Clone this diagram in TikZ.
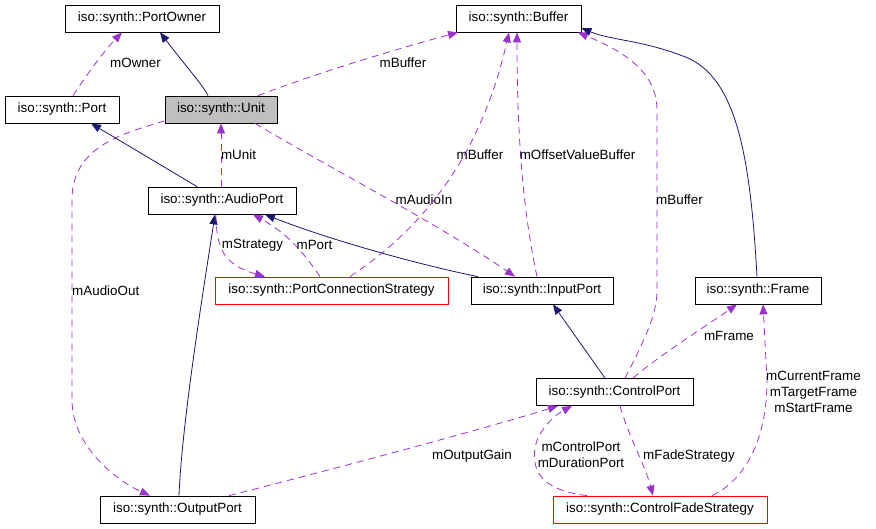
\documentclass[tikz,border=0pt]{standalone}
\usepackage{fontspec}
\setmainfont{Liberation Sans}
\usetikzlibrary{arrows.meta}
\definecolor{edgepurple}{HTML}{9A32CD}
\definecolor{edgenavy}{HTML}{191970}
\definecolor{curgray}{HTML}{BFBFBF}
\begin{document}
\begin{tikzpicture}[x=1pt,y=-1pt,
  cls/.style={draw=black, fill=white, line width=0.8pt, minimum height=27pt, inner sep=0pt, font=\fontsize{13.4}{16}\selectfont},
  redcls/.style={cls, draw=red},
  curcls/.style={cls, fill=curgray},
  lbl/.style={inner sep=0pt, font=\fontsize{13.4}{16}\selectfont, align=center},
  usage/.style={draw=edgepurple, line width=0.8pt, dash pattern=on 7pt off 5pt, -{Triangle[length=10pt,width=8pt,fill=edgepurple]}},
  inherit/.style={draw=edgenavy, line width=0.8pt, -{Triangle[length=10pt,width=8pt,fill=edgenavy]}}
]
\useasboundingbox (0,0) rectangle (876,528);
% nodes
\node[cls, minimum width=154pt] (portowner) at (142,18.5) {iso::synth::PortOwner};
\node[cls, minimum width=125pt] (buffer) at (518.5,18.5) {iso::synth::Buffer};
\node[cls, minimum width=114pt] (port) at (62,109.5) {iso::synth::Port};
\node[curcls, minimum width=112pt] (unit) at (221,109.5) {iso::synth::Unit};
\node[cls, minimum width=148pt] (audioport) at (222,200.5) {iso::synth::AudioPort};
\node[redcls, minimum width=233pt] (pcs) at (331.5,290.5) {iso::synth::PortConnectionStrategy};
\node[cls, minimum width=142pt] (inputport) at (542,290.5) {iso::synth::InputPort};
\node[cls, minimum width=126pt] (frame) at (758,290.5) {iso::synth::Frame};
\node[cls, minimum width=157pt] (controlport) at (614.5,392) {iso::synth::ControlPort};
\node[cls, minimum width=155pt] (outputport) at (177.5,509.5) {iso::synth::OutputPort};
\node[redcls, minimum width=214pt] (cfs) at (660,509.5) {iso::synth::ControlFadeStrategy};

% edges
\draw[usage] (port.north -| 73,0) .. controls (90,70) and (105,50) .. (portowner.south -| 122,0);
\node[lbl] (lowner) at (135.5,63) {mOwner};

\draw[inherit] (unit.north -| 208,0) .. controls (205,88) and (185,65) .. (portowner.south -| 160,0);

\draw[usage] (unit.north -| 258,0) .. controls (320,72) and (400,48) .. (buffer.south -| 458,0);
\node[lbl] (lbuf1) at (403,63) {mBuffer};

\draw[usage] (audioport.north -| 221,0) -- (unit.south -| 221,0);
\node[lbl] (lunit) at (238.5,155) {mUnit};

\draw[inherit] (audioport.north -| 197,0) -- (port.south -| 91,0);

\draw[usage] (unit.west |- 0,121) .. controls (115,135) and (72,150) .. (72,200) -- (72,400) .. controls (72,445) and (115,480) .. (outputport.north -| 150,0);
\node[lbl, anchor=west] (laudioout) at (72,291) {mAudioOut};

\draw[usage] (unit.south -| 255,0) .. controls (330,168) and (440,225) .. (inputport.north -| 515,0);
\node[lbl] (laudioin) at (424,200) {mAudioIn};

\draw[inherit] (inputport.north -| 478,0) .. controls (420,265) and (330,240) .. (audioport.south -| 265,0);

\draw[inherit] (outputport.north -| 179,0) .. controls (182,420) and (205,280) .. (audioport.south -| 215,0);

\draw[usage] (audioport.south -| 216,0) .. controls (216,250) and (225,265) .. (pcs.north -| 265,0);
\node[lbl] (lstrategy) at (252.5,245) {mStrategy};

\draw[usage] (pcs.north -| 320,0) .. controls (305,255) and (290,235) .. (audioport.south -| 253,0);
\node[lbl] (lport) at (314.5,245) {mPort};

\draw[usage] (pcs.north -| 350,0) .. controls (420,230) and (480,160) .. (buffer.south -| 509,0);
\node[lbl] (lbuf2) at (480,155) {mBuffer};

\draw[usage] (inputport.north -| 537,0) .. controls (525,220) and (517,150) .. (buffer.south -| 517,0);
\node[lbl] (loffset) at (577.5,155) {mOffsetValueBuffer};

\draw[usage] (controlport.north -| 625,0) .. controls (650,330) and (657,310) .. (657,290) -- (657,110) .. controls (657,70) and (620,50) .. (buffer.south -| 578,0);
\node[lbl, anchor=west] (lbuf3) at (656,200) {mBuffer};

\draw[inherit] (frame.north -| 757,0) .. controls (750,150) and (735,72) .. (680,55) .. controls (640,40) and (610,40) .. (buffer.east |- 0,28);

\draw[inherit] (controlport.north -| 605,0) -- (inputport.south -| 553,0);

\draw[usage] (controlport.north -| 633,0) .. controls (660,355) and (700,330) .. (frame.south -| 737,0);
\node[lbl] (lframe) at (729,336) {mFrame};

\draw[usage] (cfs.north -| 712,0) .. controls (745,480) and (767,440) .. (767,380) -- (frame.south -| 763,0);
\node[lbl] (lframes) at (813.5,392) {mCurrentFrame\\mTargetFrame\\mStartFrame};

\draw[usage] (outputport.north -| 229,0) .. controls (330,470) and (480,430) .. (controlport.south -| 558,0);
\node[lbl] (loutgain) at (472,456) {mOutputGain};

\draw[usage] (cfs.north -| 587,0) .. controls (540,490) and (532,470) .. (535,448) .. controls (538,430) and (555,415) .. (controlport.south -| 572,0);
\node[lbl] (lctrl) at (581,455) {mControlPort\\mDurationPort};

\draw[usage] (controlport.south -| 620,0) .. controls (630,440) and (645,465) .. (cfs.north -| 653,0);
\node[lbl] (lfade) at (689,456) {mFadeStrategy};
\end{tikzpicture}
\end{document}
